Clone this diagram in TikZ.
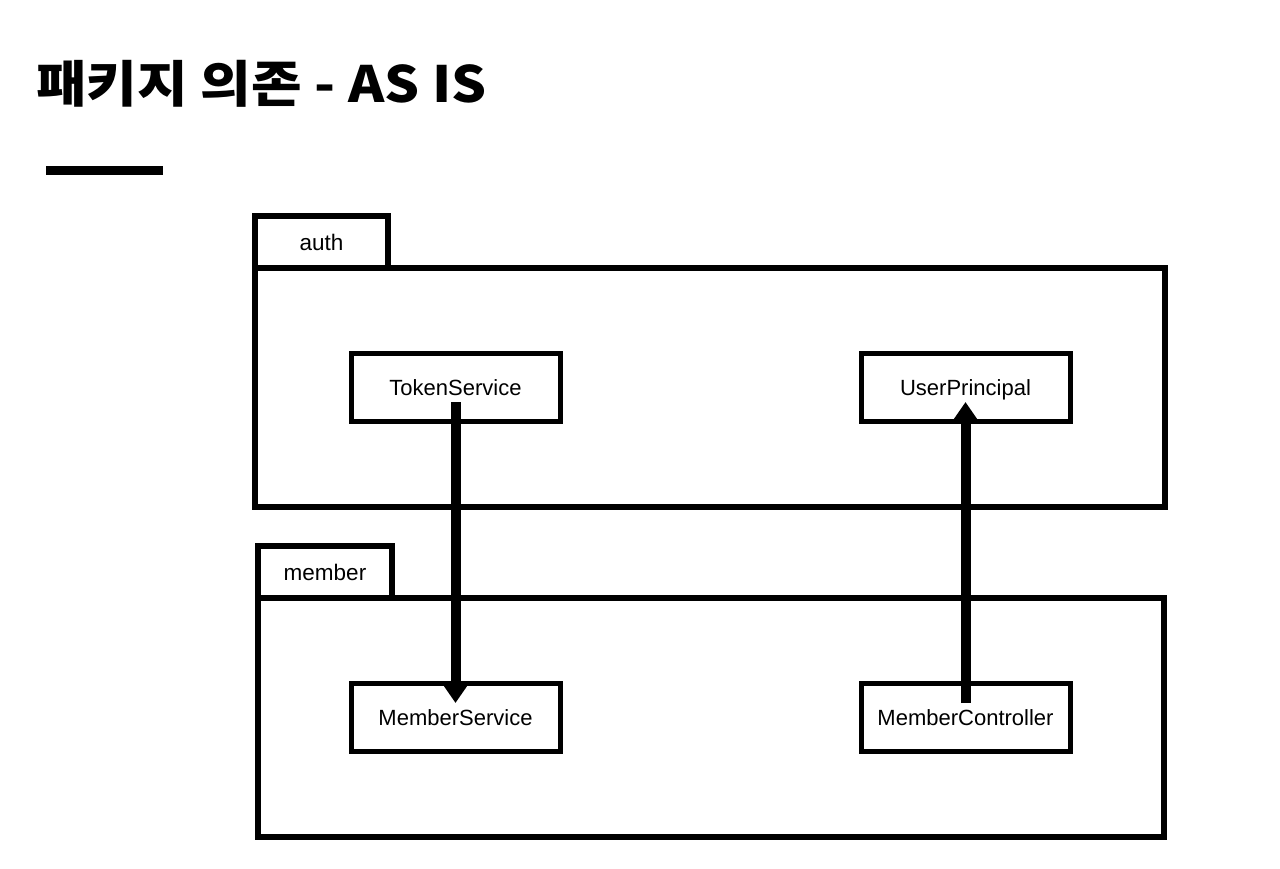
\documentclass[tikz,border=0pt]{standalone}
\usepackage{fontspec}
\setmainfont{Liberation Sans}
\newfontfamily\krfont{Noto Sans CJK KR}
\usetikzlibrary{arrows.meta,calc}
\tikzset{
  pkg/.style={draw,line width=6pt,rectangle,inner sep=0pt,text height=16pt,text depth=0pt,font=\fontsize{22.5}{26}\selectfont},
  cls/.style={draw,line width=5pt,rectangle,inner sep=0pt,minimum width=209pt,minimum height=68pt,text height=16pt,text depth=0pt,font=\fontsize{22}{26}\selectfont},
  dep/.style={line width=10pt,-{Triangle[width=26pt,length=20pt]}},
}
\begin{document}
\begin{tikzpicture}[x=1pt,y=-1pt]
\useasboundingbox[fill=white] (0,0) rectangle (1280,868);
% title
\node[anchor=west,inner sep=0pt,font=\krfont\bfseries\fontsize{50}{56}\selectfont] (title) at (36,84) {\scalebox{1.1}[1]{패키지 의존 - AS IS}};
\draw[line width=9pt] (46,170.5) -- (163,170.5);
% auth package
\node[pkg,minimum width=133pt,minimum height=52pt] (authtab) at (321.5,242) {auth};
\node[pkg,minimum width=910pt,minimum height=239pt] (auth) at (710,387.5) {};
% member package
\node[pkg,minimum width=134pt,minimum height=52pt] (membertab) at (325,572) {member};
\node[pkg,minimum width=906pt,minimum height=239pt] (member) at (711,717.5) {};
% classes
\node[cls] (ts) at (455.5,387.5) {TokenService};
\node[cls] (up) at (965.5,387.5) {UserPrincipal};
\node[cls] (ms) at (455.5,717.5) {MemberService};
\node[cls] (mc) at (965.5,717.5) {MemberController};
% dependencies
\draw[dep] ($(ts.center)+(0,14.5)$) -- ($(ms.center)+(0,-14.5)$);
\draw[dep] ($(mc.center)+(0,-14.5)$) -- ($(up.center)+(0,14.5)$);
\end{tikzpicture}
\end{document}
